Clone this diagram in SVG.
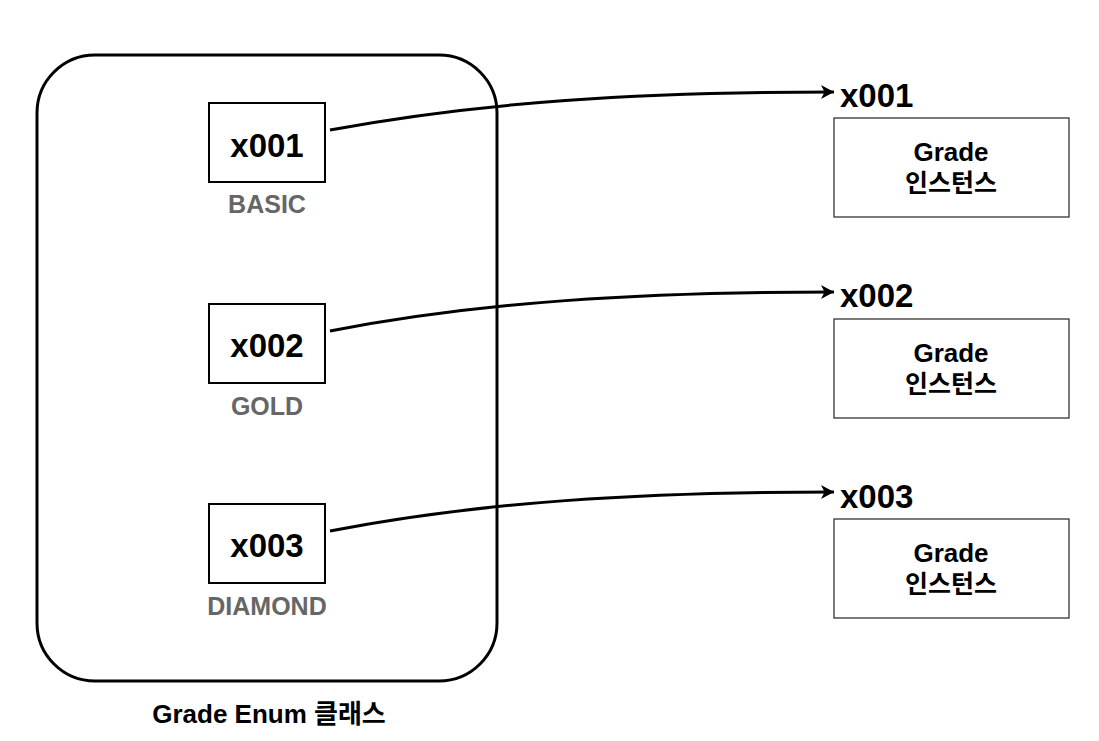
<svg xmlns="http://www.w3.org/2000/svg" width="1099" height="741" viewBox="0 0 1099 741">
<style>
.big{fill:none;stroke:#000;stroke-width:3}
.ref{fill:#fff;stroke:#000;stroke-width:2}
.inst{fill:#fff;stroke:#333;stroke-width:1.3}
.addr{font-family:"Liberation Sans",Arial,sans-serif;font-weight:bold;font-size:33px;fill:#000;text-anchor:middle}
.lbl{font-family:"Liberation Sans",Arial,sans-serif;font-weight:bold;font-size:25px;fill:#666;text-anchor:middle}
.ptr{font-family:"Liberation Sans",Arial,sans-serif;font-weight:bold;font-size:33px;fill:#000}
.itxt{font-family:"Liberation Sans","Noto Sans CJK KR",sans-serif;font-weight:bold;font-size:26px;fill:#000;text-anchor:middle}
.ko{font-size:25px}
.conn{fill:none;stroke:#000;stroke-width:3;marker-end:url(#ah)}
</style>
<defs>
<marker id="ah" markerWidth="14" markerHeight="16" refX="13" refY="8" orient="auto" markerUnits="userSpaceOnUse" viewBox="0 0 14 16">
<path d="M0,1 L13,8 L0,15 L3.5,8 Z" fill="#000"/>
</marker>
</defs>
<rect width="1099" height="741" fill="#fff"/>
<g id="enum-class">
<rect class="big" x="37" y="55" width="460" height="626" rx="58" ry="58"/>
<text class="itxt" x="269" y="723">Grade Enum 클래스</text>
</g>
<g id="basic">
<rect class="ref" x="209" y="103" width="116" height="79"/>
<text class="addr" x="267" y="157">x001</text>
<text class="lbl" x="267" y="213">BASIC</text>
</g>
<g id="gold">
<rect class="ref" x="209" y="304" width="116" height="79"/>
<text class="addr" x="267" y="357">x002</text>
<text class="lbl" x="267" y="415">GOLD</text>
</g>
<g id="diamond">
<rect class="ref" x="209" y="504" width="116" height="79"/>
<text class="addr" x="267" y="557">x003</text>
<text class="lbl" x="267" y="615">DIAMOND</text>
</g>
<g id="inst1">
<text class="ptr" x="840" y="107">x001</text>
<rect class="inst" x="834" y="118" width="235" height="99"/>
<text class="itxt" x="951" y="161">Grade</text>
<text class="itxt ko" x="951" y="192">인스턴스</text>
</g>
<g id="inst2">
<text class="ptr" x="840" y="307">x002</text>
<rect class="inst" x="834" y="319" width="235" height="99"/>
<text class="itxt" x="951" y="362">Grade</text>
<text class="itxt ko" x="951" y="393">인스턴스</text>
</g>
<g id="inst3">
<text class="ptr" x="840" y="508">x003</text>
<rect class="inst" x="834" y="519" width="235" height="99"/>
<text class="itxt" x="951" y="562">Grade</text>
<text class="itxt ko" x="951" y="593">인스턴스</text>
</g>
<g id="connectors">
<path class="conn" d="M330,130 C480,102 640,92 834,92"/>
<path class="conn" d="M330,331 C480,302 640,292 834,292"/>
<path class="conn" d="M330,531 C480,502 640,492 834,492"/>
</g>
</svg>
